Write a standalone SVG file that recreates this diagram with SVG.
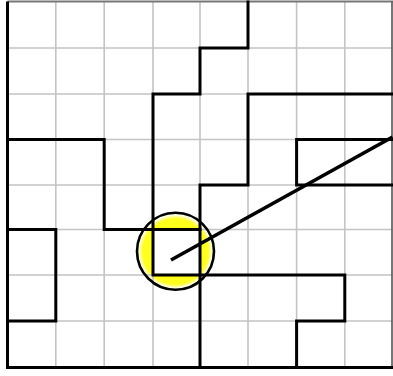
<svg xmlns="http://www.w3.org/2000/svg" width="393" height="376" viewBox="0 0 393 376">
  <style>
    .grid { stroke: #c4c4c4; stroke-width: 1.6; fill: none; }
    .wall { stroke: #000; stroke-width: 3; fill: none; stroke-linecap: square; stroke-linejoin: miter; }
  </style>
  <defs>
    <filter id="soft" x="-20%" y="-20%" width="140%" height="140%">
      <feGaussianBlur stdDeviation="1.5"/>
    </filter>
  </defs>
  <rect width="393" height="376" fill="#fff"/>
  <g id="highlight">
    <circle cx="175.5" cy="251.5" r="35" fill="#ffff1a" filter="url(#soft)"/>
    <rect x="153" y="229.5" width="47" height="45.5" fill="#fff"/>
  </g>
  <g id="grid" class="grid">
    <path d="M55.8 2V367.5M104.2 2V367.5M153 2V367.5M200 2V367.5M248 2V367.5M296.6 2V367.5M344.8 2V367.5"/>
    <path d="M7.5 48H392.3M7.5 94H392.3M7.5 139.5H392.3M7.5 185H392.3M7.5 229.5H392.3M7.5 275H392.3M7.5 321H392.3"/>
  </g>
  <g id="frame">
    <path d="M7.5 1.5H393" stroke="#777" stroke-width="2.2" fill="none"/>
    <path d="M392 1.5V368" stroke="#555" stroke-width="1.6" fill="none"/>
    <path class="wall" d="M7.5 3V367.5H392" stroke-width="3.5"/>
  </g>
  <g id="walls" class="wall">
    <path d="M248 2V48H200V94H153V275H344.8V321H296.6V367.5"/>
    <path d="M7.5 139.5H104.2V229.5H200"/>
    <path d="M392.3 94H248V185H200V367.5"/>
    <path d="M392.3 139.5H296.6V185H392.3"/>
    <path d="M7.5 229.5H55.8V321H7.5"/>
  </g>
  <g id="pointer">
    <circle cx="175.5" cy="251.3" r="38.5" fill="none" stroke="#000" stroke-width="2.6"/>
    <line x1="392.5" y1="137" x2="171" y2="260" stroke="#000" stroke-width="3.6"/>
  </g>
</svg>
